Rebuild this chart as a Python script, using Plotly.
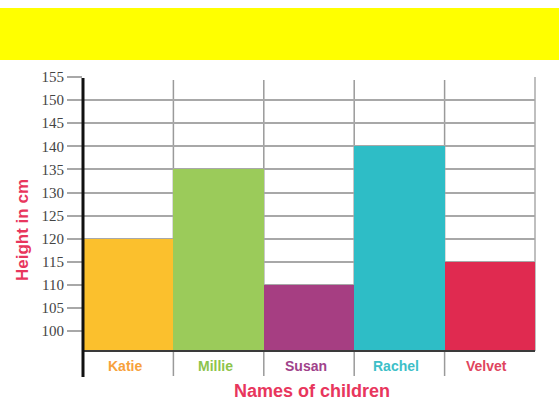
import plotly.graph_objects as go

names = ["Katie", "Millie", "Susan", "Rachel", "Velvet"]
heights = [120, 135, 110, 140, 115]
bar_colors = ["#FBC02D", "#9BCB5A", "#A63E82", "#2EBDC6", "#E02A50"]
label_colors = ["#F7A13B", "#8DC44B", "#A0428A", "#3DBFC8", "#E0455E"]
y_ticks = [100, 105, 110, 115, 120, 125, 130, 135, 140, 145, 150, 155]

W, H = 559, 401
L, R, T, B = 83, 24, 77, 50
pw, ph = W - L - R, H - T - B
ymin, ymax = 95.7, 155


def px(x):
    return (x - L) / pw


def py(y):
    return (H - B - y) / ph


fig = go.Figure(go.Bar(
    x=names, y=heights, marker=dict(color=bar_colors, line=dict(width=0)),
    showlegend=False,
))

shapes = []
# yellow banner
shapes.append(dict(type="rect", xref="paper", yref="paper", x0=px(0), x1=px(W),
                   y0=py(60), y1=py(8), fillcolor="#FFFF00", line=dict(width=0), layer="below"))
# category separators
n = len(names)
for i in range(1, n):
    xp = i / n
    shapes.append(dict(type="line", xref="paper", yref="paper", x0=xp, x1=xp,
                       y0=py(376), y1=py(80), line=dict(color="#9a9a9a", width=1.5), layer="below"))
# right border
shapes.append(dict(type="line", xref="paper", yref="paper", x0=1, x1=1,
                   y0=0, y1=1, line=dict(color="#aaaaaa", width=1.5), layer="below"))
# baseline
shapes.append(dict(type="line", xref="paper", yref="paper", x0=0, x1=1,
                   y0=0, y1=0, line=dict(color="#3a3a3a", width=2), layer="above"))
# left axis line
shapes.append(dict(type="line", xref="paper", yref="paper", x0=0, x1=0,
                   y0=py(377), y1=py(78), line=dict(color="#111111", width=3), layer="above"))

annotations = []
for i, (nm, c) in enumerate(zip(names, label_colors)):
    annotations.append(dict(x=nm, xref="x", y=0, yref="paper", yshift=-15, xshift=-3,
                            text=f"<b>{nm}</b>", showarrow=False, yanchor="middle",
                            font=dict(family="Liberation Sans", size=14, color=c)))
annotations.append(dict(x=px(312), xref="paper", y=py(391), yref="paper", text="<b>Names of children</b>",
                        showarrow=False, yanchor="middle", xanchor="center",
                        font=dict(family="Liberation Sans", size=18, color="#E8365D")))
annotations.append(dict(x=px(23), xref="paper", y=py(230), yref="paper", text="<b>Height in cm</b>",
                        showarrow=False, yanchor="middle", xanchor="center", textangle=-90,
                        font=dict(family="Liberation Sans", size=17, color="#E8365D")))

fig.update_layout(
    width=W, height=H,
    margin=dict(l=L, r=R, t=T, b=B, pad=0),
    paper_bgcolor="white", plot_bgcolor="white",
    bargap=0,
    shapes=shapes, annotations=annotations,
    xaxis=dict(range=[-0.5, n - 0.5], showticklabels=False, showgrid=False, zeroline=False,
               showline=False, ticks="", fixedrange=True),
    yaxis=dict(range=[ymin, ymax], tickvals=y_ticks, ticktext=[str(v) for v in y_ticks],
               showgrid=True, gridcolor="#a8a8a8", gridwidth=1.5, zeroline=False, showline=False,
               ticks="outside", ticklen=15, tickwidth=1.5, tickcolor="#a8a8a8",
               tickfont=dict(family="Liberation Serif", size=15, color="#444444"), fixedrange=True),
)

fig.write_html("out.html", config={"displayModeBar": False},
               post_script="document.body.style.margin='0';document.body.style.overflow='hidden';")
